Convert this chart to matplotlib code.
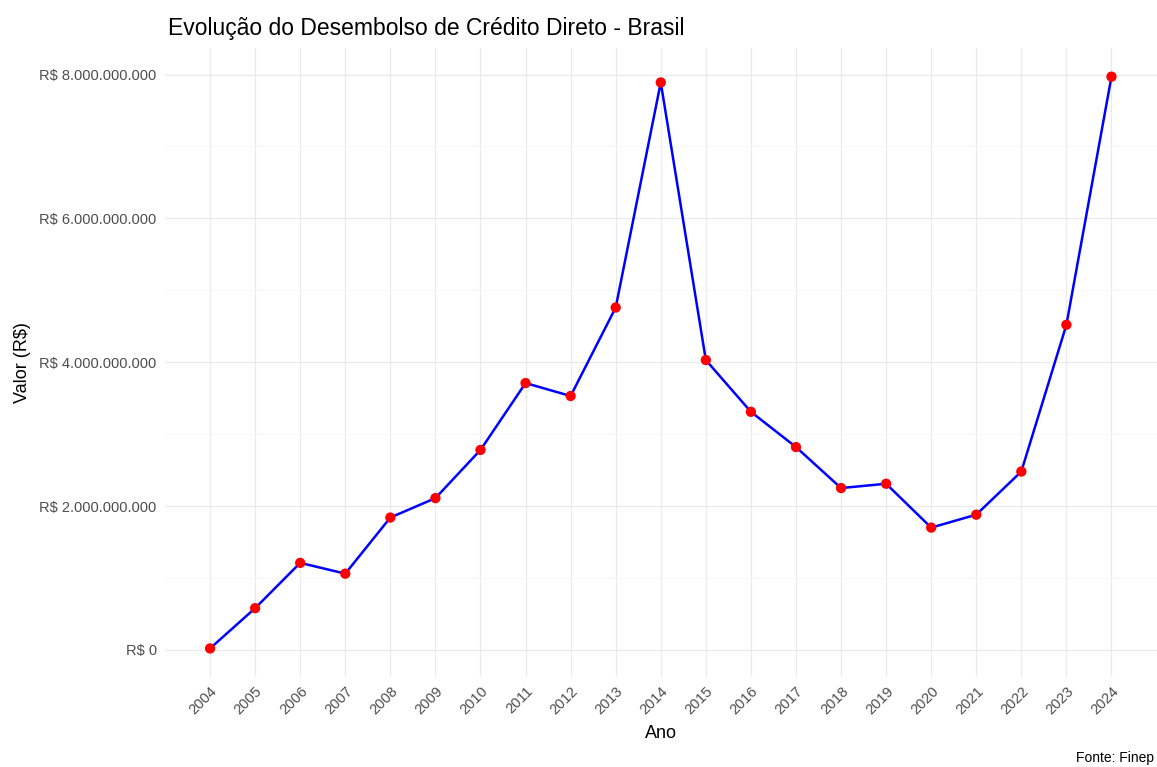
import matplotlib
matplotlib.use("Agg")
import matplotlib.pyplot as plt
from matplotlib.ticker import FuncFormatter, MultipleLocator

# Desembolso anual de crédito direto (R$ bilhões)
anos = list(range(2004, 2025))
valores_bi = [0.02, 0.58, 1.21, 1.06, 1.84, 2.11, 2.78, 3.71, 3.53, 4.76,
              7.89, 4.03, 3.31, 2.82, 2.25, 2.31, 1.70, 1.88, 2.48, 4.52, 7.97]
valores = [v * 1e9 for v in valores_bi]

plt.rcParams['font.family'] = ['Liberation Sans', 'DejaVu Sans']

fig = plt.figure(figsize=(11.57, 7.67), dpi=100)
ax = fig.add_axes([0.1426, 0.1173, 0.857, 0.82])

ax.plot(anos, valores, color='#0000ff', lw=1.8, zorder=3)
ax.scatter(anos, valores, color='#ff0000', s=55, zorder=4, edgecolors='none')

ax.set_xlim(2003, 2025)
ymin, ymax = min(valores), max(valores)
pad = (ymax - ymin) * 0.05
ax.set_ylim(ymin - pad, ymax + pad)

ax.set_xticks(anos)
ax.set_xticklabels([str(a) for a in anos], rotation=45, ha='right',
                   rotation_mode='anchor')
ax.yaxis.set_major_locator(MultipleLocator(2e9))
ax.yaxis.set_minor_locator(MultipleLocator(1e9))


def brl(v, pos):
    return "R$ " + f"{v:,.0f}".replace(",", ".")


ax.yaxis.set_major_formatter(FuncFormatter(brl))

ax.grid(True, which='major', color='#ebebeb', lw=0.9)
ax.grid(True, which='minor', axis='y', color='#f4f4f4', lw=0.5)
ax.set_axisbelow(True)
for s in ax.spines.values():
    s.set_visible(False)
ax.tick_params(axis='both', which='both', length=0, colors='#4d4d4d')
ax.tick_params(axis='x', labelsize=10.5, pad=5)
ax.tick_params(axis='y', labelsize=10.5, pad=6)

ax.set_xlabel('Ano', fontsize=13, color='black', labelpad=6)
ax.set_ylabel('Valor (R$)', fontsize=13, color='black', labelpad=6)
fig.text(0.1452, 0.963, 'Evolução do Desembolso de Crédito Direto - Brasil',
         fontsize=16.5, ha='left', va='center')
fig.text(0.997, 0.012, 'Fonte: Finep', fontsize=10, ha='right', va='center')

fig.savefig('out.png', dpi=100)
